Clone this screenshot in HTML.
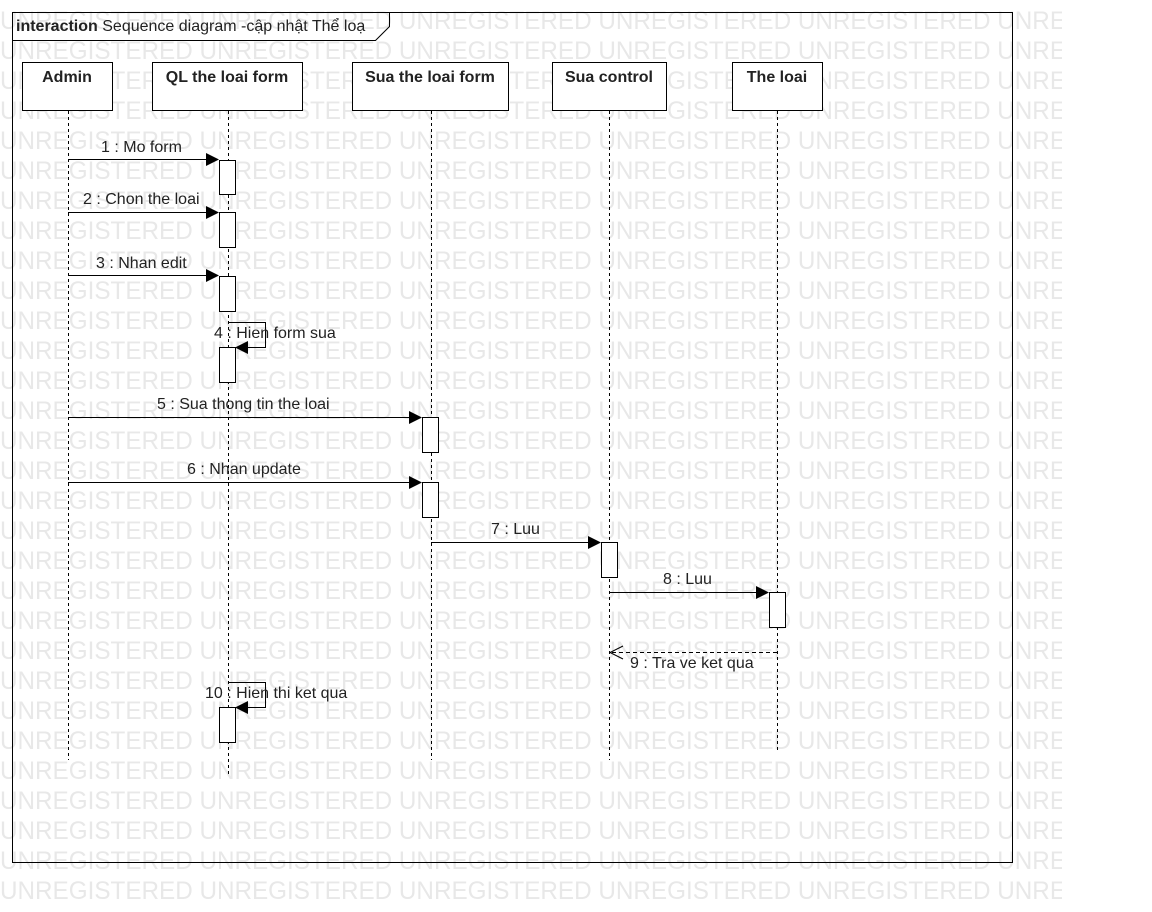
<!DOCTYPE html>
<html><head><meta charset="utf-8"><style>
html,body{margin:0;padding:0;background:#fff}
svg{display:block}
.wm{font-family:"Liberation Sans",sans-serif;font-size:25px;fill:#e8e8e8}
.t{font-family:"Liberation Sans","Noto Sans CJK SC",sans-serif;font-size:16px;fill:#222}
.b{font-weight:bold;font-size:16px}
</style></head><body>
<svg width="1152" height="912" xmlns="http://www.w3.org/2000/svg">
<defs><clipPath id="c"><rect x="0" y="0" width="1062" height="912"/></clipPath></defs>
<g class="wm" clip-path="url(#c)">
<text x="0" y="29" textLength="1190" lengthAdjust="spacingAndGlyphs">UNREGISTERED UNREGISTERED UNREGISTERED UNREGISTERED UNREGISTERED UNREGISTERED</text>
<text x="0" y="59" textLength="1190" lengthAdjust="spacingAndGlyphs">UNREGISTERED UNREGISTERED UNREGISTERED UNREGISTERED UNREGISTERED UNREGISTERED</text>
<text x="0" y="89" textLength="1190" lengthAdjust="spacingAndGlyphs">UNREGISTERED UNREGISTERED UNREGISTERED UNREGISTERED UNREGISTERED UNREGISTERED</text>
<text x="0" y="119" textLength="1190" lengthAdjust="spacingAndGlyphs">UNREGISTERED UNREGISTERED UNREGISTERED UNREGISTERED UNREGISTERED UNREGISTERED</text>
<text x="0" y="149" textLength="1190" lengthAdjust="spacingAndGlyphs">UNREGISTERED UNREGISTERED UNREGISTERED UNREGISTERED UNREGISTERED UNREGISTERED</text>
<text x="0" y="179" textLength="1190" lengthAdjust="spacingAndGlyphs">UNREGISTERED UNREGISTERED UNREGISTERED UNREGISTERED UNREGISTERED UNREGISTERED</text>
<text x="0" y="209" textLength="1190" lengthAdjust="spacingAndGlyphs">UNREGISTERED UNREGISTERED UNREGISTERED UNREGISTERED UNREGISTERED UNREGISTERED</text>
<text x="0" y="239" textLength="1190" lengthAdjust="spacingAndGlyphs">UNREGISTERED UNREGISTERED UNREGISTERED UNREGISTERED UNREGISTERED UNREGISTERED</text>
<text x="0" y="269" textLength="1190" lengthAdjust="spacingAndGlyphs">UNREGISTERED UNREGISTERED UNREGISTERED UNREGISTERED UNREGISTERED UNREGISTERED</text>
<text x="0" y="299" textLength="1190" lengthAdjust="spacingAndGlyphs">UNREGISTERED UNREGISTERED UNREGISTERED UNREGISTERED UNREGISTERED UNREGISTERED</text>
<text x="0" y="329" textLength="1190" lengthAdjust="spacingAndGlyphs">UNREGISTERED UNREGISTERED UNREGISTERED UNREGISTERED UNREGISTERED UNREGISTERED</text>
<text x="0" y="359" textLength="1190" lengthAdjust="spacingAndGlyphs">UNREGISTERED UNREGISTERED UNREGISTERED UNREGISTERED UNREGISTERED UNREGISTERED</text>
<text x="0" y="389" textLength="1190" lengthAdjust="spacingAndGlyphs">UNREGISTERED UNREGISTERED UNREGISTERED UNREGISTERED UNREGISTERED UNREGISTERED</text>
<text x="0" y="419" textLength="1190" lengthAdjust="spacingAndGlyphs">UNREGISTERED UNREGISTERED UNREGISTERED UNREGISTERED UNREGISTERED UNREGISTERED</text>
<text x="0" y="449" textLength="1190" lengthAdjust="spacingAndGlyphs">UNREGISTERED UNREGISTERED UNREGISTERED UNREGISTERED UNREGISTERED UNREGISTERED</text>
<text x="0" y="479" textLength="1190" lengthAdjust="spacingAndGlyphs">UNREGISTERED UNREGISTERED UNREGISTERED UNREGISTERED UNREGISTERED UNREGISTERED</text>
<text x="0" y="509" textLength="1190" lengthAdjust="spacingAndGlyphs">UNREGISTERED UNREGISTERED UNREGISTERED UNREGISTERED UNREGISTERED UNREGISTERED</text>
<text x="0" y="539" textLength="1190" lengthAdjust="spacingAndGlyphs">UNREGISTERED UNREGISTERED UNREGISTERED UNREGISTERED UNREGISTERED UNREGISTERED</text>
<text x="0" y="569" textLength="1190" lengthAdjust="spacingAndGlyphs">UNREGISTERED UNREGISTERED UNREGISTERED UNREGISTERED UNREGISTERED UNREGISTERED</text>
<text x="0" y="599" textLength="1190" lengthAdjust="spacingAndGlyphs">UNREGISTERED UNREGISTERED UNREGISTERED UNREGISTERED UNREGISTERED UNREGISTERED</text>
<text x="0" y="629" textLength="1190" lengthAdjust="spacingAndGlyphs">UNREGISTERED UNREGISTERED UNREGISTERED UNREGISTERED UNREGISTERED UNREGISTERED</text>
<text x="0" y="659" textLength="1190" lengthAdjust="spacingAndGlyphs">UNREGISTERED UNREGISTERED UNREGISTERED UNREGISTERED UNREGISTERED UNREGISTERED</text>
<text x="0" y="689" textLength="1190" lengthAdjust="spacingAndGlyphs">UNREGISTERED UNREGISTERED UNREGISTERED UNREGISTERED UNREGISTERED UNREGISTERED</text>
<text x="0" y="719" textLength="1190" lengthAdjust="spacingAndGlyphs">UNREGISTERED UNREGISTERED UNREGISTERED UNREGISTERED UNREGISTERED UNREGISTERED</text>
<text x="0" y="749" textLength="1190" lengthAdjust="spacingAndGlyphs">UNREGISTERED UNREGISTERED UNREGISTERED UNREGISTERED UNREGISTERED UNREGISTERED</text>
<text x="0" y="779" textLength="1190" lengthAdjust="spacingAndGlyphs">UNREGISTERED UNREGISTERED UNREGISTERED UNREGISTERED UNREGISTERED UNREGISTERED</text>
<text x="0" y="809" textLength="1190" lengthAdjust="spacingAndGlyphs">UNREGISTERED UNREGISTERED UNREGISTERED UNREGISTERED UNREGISTERED UNREGISTERED</text>
<text x="0" y="839" textLength="1190" lengthAdjust="spacingAndGlyphs">UNREGISTERED UNREGISTERED UNREGISTERED UNREGISTERED UNREGISTERED UNREGISTERED</text>
<text x="0" y="869" textLength="1190" lengthAdjust="spacingAndGlyphs">UNREGISTERED UNREGISTERED UNREGISTERED UNREGISTERED UNREGISTERED UNREGISTERED</text>
<text x="0" y="899" textLength="1190" lengthAdjust="spacingAndGlyphs">UNREGISTERED UNREGISTERED UNREGISTERED UNREGISTERED UNREGISTERED UNREGISTERED</text>
</g>

<!-- frame -->
<rect x="12.5" y="12.5" width="1000" height="850" fill="none" stroke="#000"/>
<path d="M12.5 40.5 H375.5 L389.5 26.5 V12.5" fill="none" stroke="#000"/>
<text x="16" y="31" class="t"><tspan font-weight="bold">interaction</tspan> Sequence diagram -cập nhật Thể loạ</text>

<!-- lifelines -->
<g stroke="#000" stroke-dasharray="3,3" fill="none">
<line x1="68.5" y1="111" x2="68.5" y2="760"/>
<line x1="228.5" y1="111" x2="228.5" y2="775"/>
<line x1="431.5" y1="111" x2="431.5" y2="760"/>
<line x1="609.5" y1="111" x2="609.5" y2="760"/>
<line x1="777.5" y1="111" x2="777.5" y2="750"/>
</g>
<g fill="#fff" stroke="#000">
<rect x="22.5" y="62.5" width="90" height="48"/>
<rect x="152.5" y="62.5" width="150" height="48"/>
<rect x="352.5" y="62.5" width="156" height="48"/>
<rect x="552.5" y="62.5" width="114" height="48"/>
<rect x="732.5" y="62.5" width="90" height="48"/>
</g>
<g class="t b" text-anchor="middle">
<text x="67" y="82">Admin</text>
<text x="227" y="82">QL the loai form</text>
<text x="430" y="82">Sua the loai form</text>
<text x="609" y="82">Sua control</text>
<text x="777" y="82">The loai</text>
</g>

<!-- activations -->
<g fill="#fff" stroke="#000">
<rect x="219.5" y="160.5" width="16" height="34"/>
<rect x="219.5" y="212.5" width="16" height="35"/>
<rect x="219.5" y="276.5" width="16" height="35"/>
<rect x="219.5" y="347.5" width="16" height="35"/>
<rect x="219.5" y="707.5" width="16" height="35"/>
<rect x="422.5" y="417.5" width="16" height="35"/>
<rect x="422.5" y="482.5" width="16" height="35"/>
<rect x="601.5" y="542.5" width="16" height="35"/>
<rect x="769.5" y="592.5" width="16" height="35"/>
</g>

<!-- messages -->
<g stroke="#000" fill="none">
<line x1="68" y1="159.5" x2="206" y2="159.5"/>
<line x1="68" y1="212.5" x2="206" y2="212.5"/>
<line x1="68" y1="275.5" x2="206" y2="275.5"/>
<path d="M228 322.5 H265.5 V347.5 H248"/>
<line x1="68" y1="417.5" x2="409" y2="417.5"/>
<line x1="68" y1="482.5" x2="409" y2="482.5"/>
<line x1="431" y1="542.5" x2="588" y2="542.5"/>
<line x1="609" y1="592.5" x2="756" y2="592.5"/>
<line x1="777" y1="652.5" x2="611" y2="652.5" stroke-dasharray="4,3"/>
<path d="M623 646 L610 652.5 L623 659"/>
<path d="M228 682.5 H265.5 V707.5 H248"/>
</g>
<g fill="#000">
<path d="M206 153 L219 159.5 L206 166Z"/>
<path d="M206 206 L219 212.5 L206 219Z"/>
<path d="M206 269 L219 275.5 L206 282Z"/>
<path d="M248 341 L235 347.5 L248 354Z"/>
<path d="M409 411 L422 417.5 L409 424Z"/>
<path d="M409 476 L422 482.5 L409 489Z"/>
<path d="M588 536 L601 542.5 L588 549Z"/>
<path d="M756 586 L769 592.5 L756 599Z"/>
<path d="M248 701 L235 707.5 L248 714Z"/>
</g>
<g class="t">
<text x="101" y="152">1 : Mo form</text>
<text x="83" y="204">2 : Chon the loai</text>
<text x="96" y="268">3 : Nhan edit</text>
<text x="214" y="338">4 : Hien form sua</text>
<text x="157" y="409">5 : Sua thong tin the loai</text>
<text x="187" y="474">6 : Nhan update</text>
<text x="491" y="534">7 : Luu</text>
<text x="663" y="584">8 : Luu</text>
<text x="630" y="668">9 : Tra ve ket qua</text>
<text x="205" y="698">10 : Hien thi ket qua</text>
</g>
</svg>
</body></html>
